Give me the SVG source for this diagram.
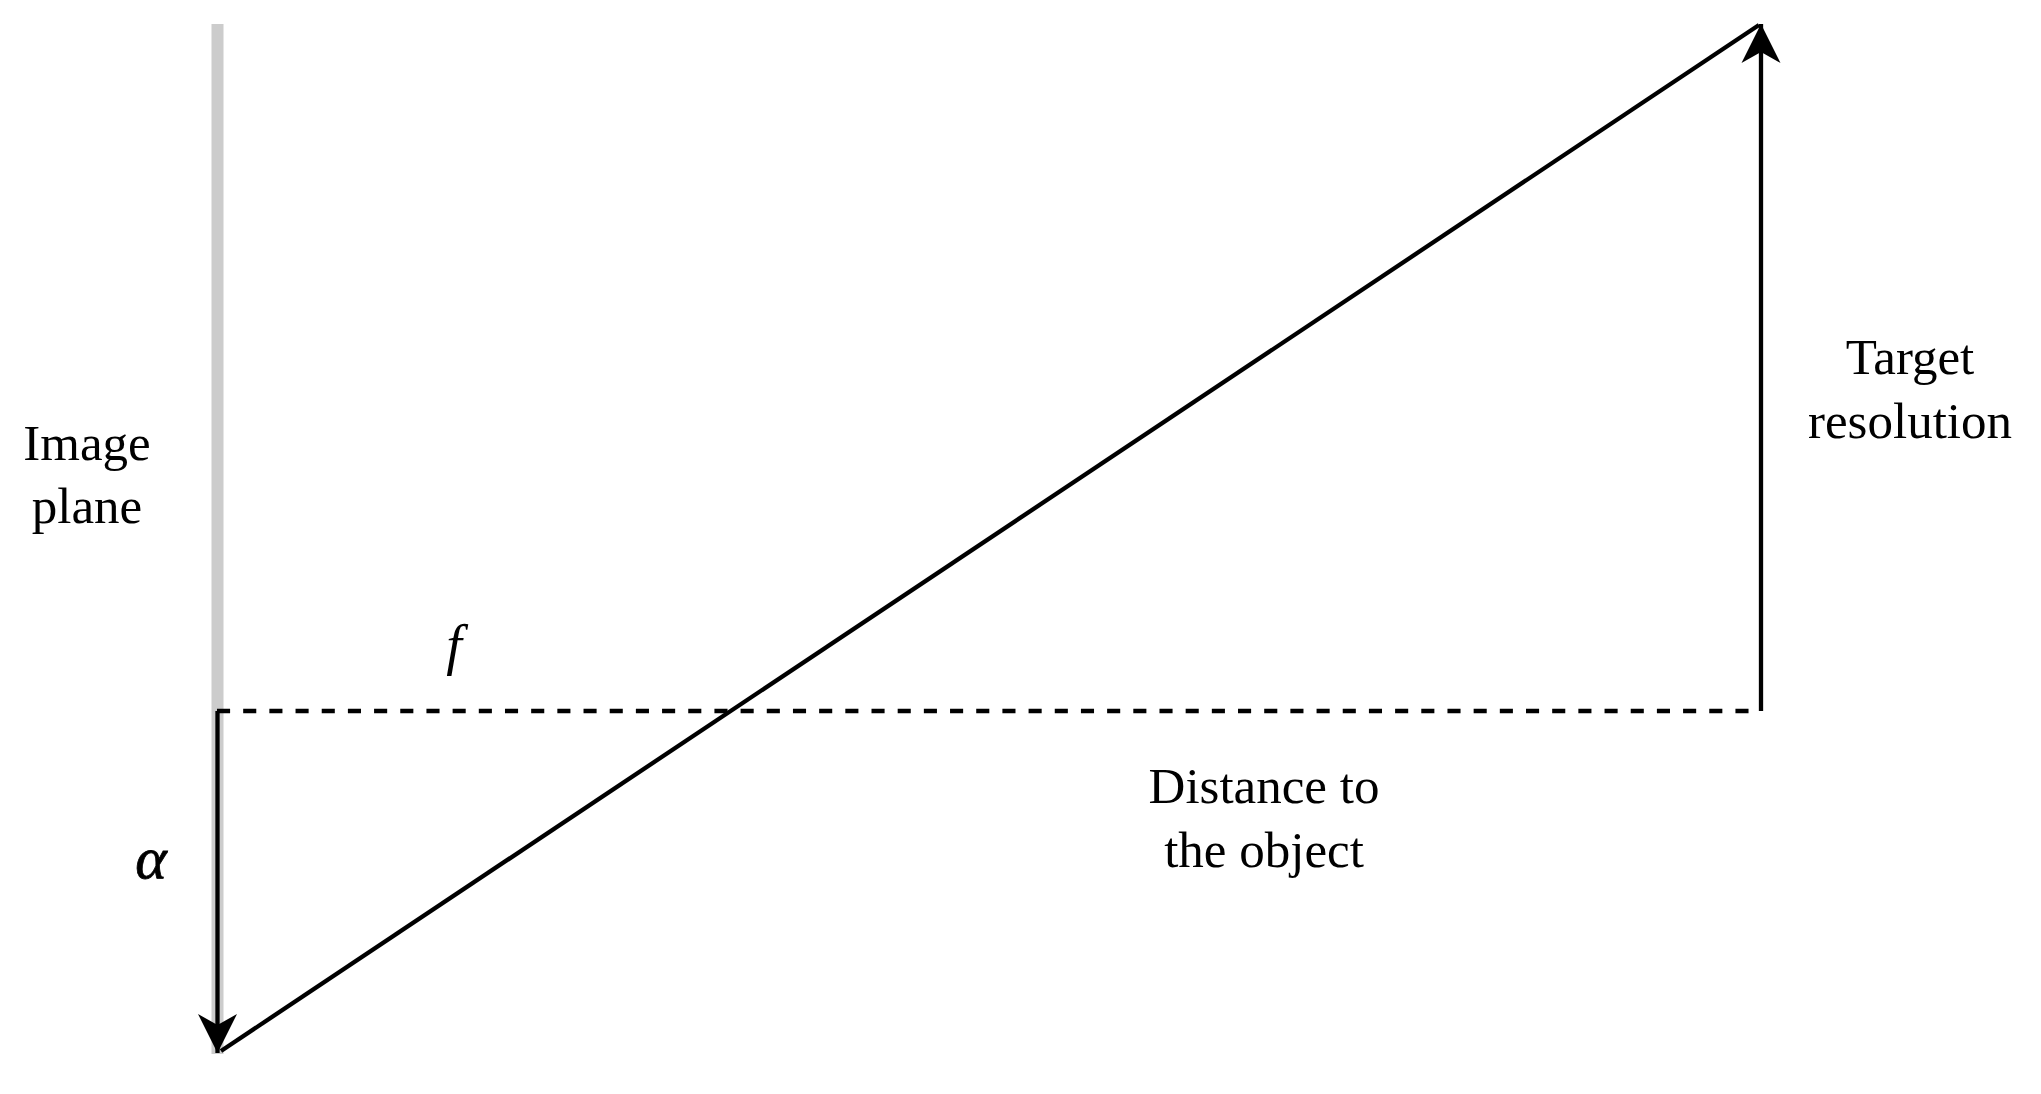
<svg xmlns="http://www.w3.org/2000/svg" width="2041" height="1094" viewBox="0 0 2041 1094">
<style>
.lbl{font-family:"Liberation Serif","Times New Roman",serif;font-size:51px;fill:#000;text-anchor:middle}
.math{font-family:"Liberation Serif","Times New Roman",serif;font-style:italic;fill:#000;text-anchor:middle}
.ln{stroke:#000;stroke-width:4.3;fill:none}
</style>
<defs>
<marker id="arr" viewBox="0 0 39 40" refX="39" refY="20" markerWidth="39" markerHeight="40" markerUnits="userSpaceOnUse" orient="auto">
<path d="M39,20 L0,0.5 L11,20 L0,39.5 Z" fill="#000"/>
</marker>
</defs>
<rect width="2041" height="1094" fill="#fff"/>
<g id="image-plane">
<rect x="211.5" y="24" width="12" height="1030" fill="#ccc"/>
<text class="lbl" x="87" y="460">Image</text>
<text class="lbl" x="87" y="523">plane</text>
</g>
<g id="connectors">
<line class="ln" x1="217" y1="711" x2="1761" y2="711" stroke-dasharray="13.09 13.09"/>
<line class="ln" x1="217.5" y1="711" x2="217.5" y2="1053" marker-end="url(#arr)"/>
<line class="ln" x1="1761" y1="711" x2="1761" y2="24" marker-end="url(#arr)"/>
<line class="ln" x1="221" y1="1051" x2="1759" y2="25"/>
</g>
<g id="label-f"><text class="math" x="454" y="664" font-size="56">f</text></g>
<g id="label-alpha"><text class="math" x="151" y="878" font-size="60" stroke="#000" stroke-width="0.8">α</text></g>
<g id="label-target">
<text class="lbl" x="1910" y="374">Target</text>
<text class="lbl" x="1910" y="438">resolution</text>
</g>
<g id="label-distance">
<text class="lbl" x="1264" y="803">Distance to</text>
<text class="lbl" x="1264" y="867">the object</text>
</g>
</svg>
